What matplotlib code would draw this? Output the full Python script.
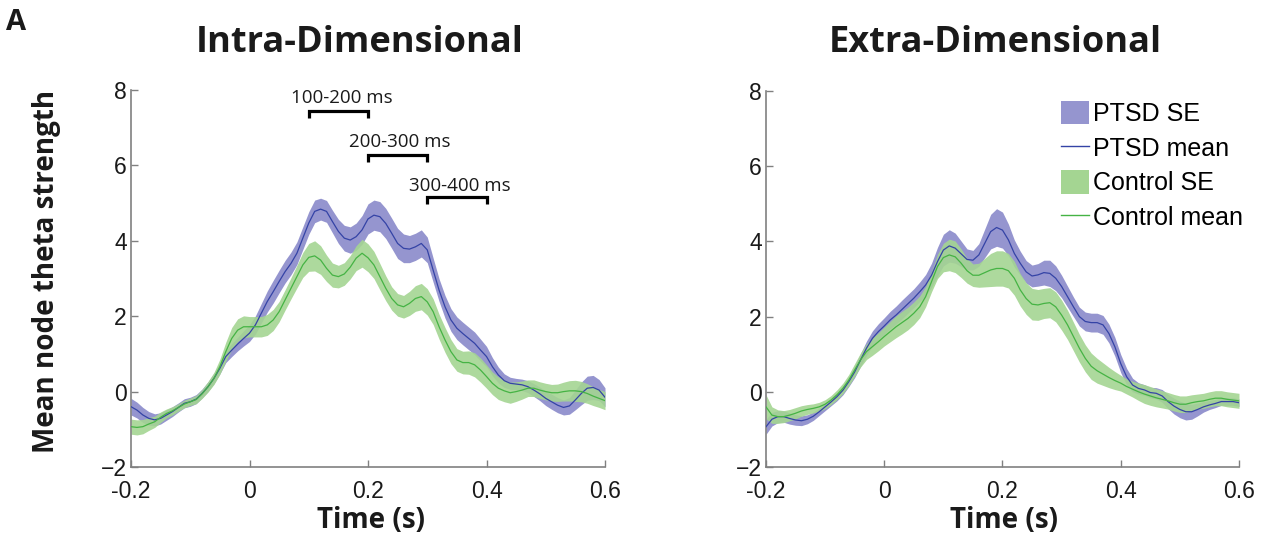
import numpy as np
import matplotlib
matplotlib.use("Agg")
import matplotlib.pyplot as plt
from matplotlib.patches import Patch
from matplotlib.lines import Line2D

# ---------------- data ----------------
time = np.linspace(-0.2, 0.6, 81)

intra_ptsd_mean = [-0.40,-0.49,-0.62,-0.71,-0.75,-0.71,-0.62,-0.53,-0.42,-0.31,
 -0.27,-0.20,-0.05,0.13,0.35,0.62,0.93,1.10,1.26,1.41,
 1.55,1.77,2.08,2.39,2.65,2.92,3.18,3.40,3.67,4.07,
 4.47,4.78,4.84,4.78,4.51,4.25,4.07,4.02,4.11,4.29,
 4.58,4.68,4.64,4.46,4.20,3.93,3.80,3.78,3.84,3.93,
 3.76,3.22,2.69,2.25,1.90,1.68,1.54,1.41,1.28,1.10,
 0.93,0.66,0.44,0.29,0.22,0.20,0.18,0.13,0.04,-0.06,
 -0.18,-0.27,-0.36,-0.42,-0.38,-0.22,-0.05,0.09,0.11,0.04,
 -0.15]
intra_ptsd_se = [0.22,0.21,0.20,0.18,0.16,0.15,0.14,0.13,0.12,0.12,
 0.12,0.12,0.12,0.13,0.14,0.15,0.16,0.17,0.18,0.20,
 0.22,0.24,0.26,0.28,0.30,0.30,0.30,0.30,0.30,0.30,
 0.30,0.30,0.29,0.29,0.30,0.32,0.34,0.35,0.36,0.38,
 0.40,0.40,0.40,0.40,0.40,0.40,0.38,0.36,0.36,0.36,
 0.34,0.32,0.30,0.30,0.30,0.30,0.30,0.30,0.30,0.29,
 0.27,0.24,0.21,0.18,0.16,0.15,0.15,0.16,0.17,0.18,
 0.19,0.20,0.20,0.20,0.22,0.26,0.30,0.32,0.32,0.28,
 0.25]
intra_ctrl_mean = [-0.93,-0.95,-0.93,-0.86,-0.80,-0.68,-0.58,-0.51,-0.42,-0.33,
 -0.27,-0.21,-0.06,0.13,0.35,0.66,1.06,1.41,1.63,1.72,
 1.72,1.72,1.72,1.77,1.90,2.12,2.43,2.74,3.05,3.36,
 3.56,3.60,3.49,3.27,3.09,3.05,3.12,3.30,3.54,3.67,
 3.55,3.36,3.05,2.74,2.47,2.30,2.25,2.34,2.47,2.52,
 2.38,2.12,1.72,1.37,1.06,0.84,0.77,0.77,0.71,0.57,
 0.40,0.22,0.09,0.02,-0.03,0.00,0.04,0.09,0.09,0.04,
 0.00,-0.03,-0.03,0.00,0.02,0.02,0.00,-0.05,-0.12,-0.18,
 -0.24]
intra_ctrl_se = [0.20,0.20,0.19,0.17,0.15,0.14,0.12,0.11,0.10,0.10,
 0.10,0.11,0.12,0.14,0.16,0.20,0.25,0.29,0.30,0.29,
 0.27,0.27,0.27,0.28,0.28,0.27,0.27,0.28,0.30,0.33,
 0.37,0.40,0.38,0.35,0.32,0.30,0.30,0.31,0.33,0.37,
 0.37,0.36,0.35,0.33,0.31,0.30,0.30,0.32,0.34,0.35,
 0.35,0.34,0.33,0.33,0.32,0.30,0.30,0.31,0.32,0.32,
 0.31,0.30,0.30,0.29,0.28,0.26,0.24,0.22,0.22,0.22,
 0.22,0.22,0.23,0.25,0.27,0.28,0.27,0.26,0.25,0.24,
 0.24]

extra_ptsd_mean = [-0.93,-0.73,-0.66,-0.66,-0.71,-0.75,-0.77,-0.73,-0.65,-0.53,
 -0.40,-0.27,-0.13,0.04,0.27,0.53,0.85,1.16,1.42,1.60,
 1.75,1.91,2.04,2.19,2.34,2.49,2.66,2.84,3.10,3.46,
 3.77,3.88,3.82,3.67,3.52,3.50,3.64,3.95,4.26,4.37,
 4.30,4.04,3.68,3.42,3.19,3.08,3.11,3.17,3.15,3.02,
 2.80,2.53,2.26,2.00,1.87,1.84,1.84,1.78,1.55,1.20,
 0.75,0.40,0.18,0.09,0.05,-0.02,-0.04,-0.11,-0.26,-0.38,
 -0.47,-0.53,-0.53,-0.47,-0.40,-0.35,-0.31,-0.26,-0.26,-0.26,
 -0.29]
extra_ptsd_se = [0.20,0.18,0.16,0.15,0.15,0.14,0.13,0.12,0.11,0.10,
 0.10,0.10,0.11,0.12,0.13,0.15,0.17,0.19,0.20,0.21,
 0.22,0.23,0.24,0.25,0.25,0.25,0.26,0.28,0.32,0.38,
 0.42,0.43,0.40,0.34,0.28,0.26,0.30,0.38,0.46,0.50,
 0.48,0.42,0.36,0.32,0.30,0.29,0.30,0.33,0.35,0.33,
 0.30,0.28,0.26,0.25,0.25,0.25,0.25,0.25,0.25,0.25,
 0.24,0.22,0.18,0.15,0.14,0.14,0.15,0.17,0.19,0.21,
 0.22,0.22,0.20,0.17,0.14,0.12,0.11,0.10,0.10,0.10,
 0.10]
extra_ctrl_mean = [-0.40,-0.62,-0.66,-0.66,-0.62,-0.57,-0.51,-0.47,-0.44,-0.40,
 -0.33,-0.22,-0.08,0.09,0.31,0.58,0.85,1.07,1.20,1.33,
 1.47,1.60,1.73,1.84,1.95,2.09,2.26,2.53,2.93,3.33,
 3.57,3.64,3.59,3.42,3.22,3.10,3.10,3.17,3.24,3.28,
 3.28,3.22,3.02,2.71,2.48,2.33,2.31,2.35,2.37,2.26,
 2.04,1.78,1.47,1.16,0.89,0.68,0.56,0.47,0.38,0.30,
 0.23,0.14,0.07,0.00,-0.06,-0.11,-0.16,-0.20,-0.24,-0.29,
 -0.33,-0.33,-0.29,-0.26,-0.24,-0.20,-0.17,-0.17,-0.20,-0.22,
 -0.24]
extra_ctrl_se = [0.32,0.22,0.18,0.16,0.15,0.15,0.14,0.13,0.12,0.12,
 0.12,0.12,0.13,0.14,0.15,0.17,0.19,0.21,0.23,0.24,
 0.25,0.27,0.29,0.30,0.30,0.30,0.29,0.27,0.27,0.32,
 0.38,0.42,0.42,0.38,0.33,0.30,0.32,0.38,0.44,0.47,
 0.47,0.46,0.45,0.43,0.42,0.42,0.41,0.40,0.40,0.40,
 0.40,0.39,0.38,0.37,0.36,0.35,0.33,0.30,0.27,0.24,
 0.21,0.20,0.21,0.23,0.25,0.25,0.24,0.23,0.22,0.22,
 0.22,0.22,0.21,0.20,0.20,0.20,0.20,0.20,0.20,0.20,
 0.20]

xticks = [-0.2, 0, 0.2, 0.4, 0.6]
xtick_labels = ["-0.2", "0", "0.2", "0.4", "0.6"]
yticks = [-2, 0, 2, 4, 6, 8]

window_labels = ["100-200 ms", "200-300 ms", "300-400 ms"]
window_starts = [0.1, 0.2, 0.3]
window_ends = [0.2, 0.3, 0.4]
window_levels = [7.45, 6.28, 5.17]
window_label_x = [0.156, 0.254, 0.355]
window_label_y = [7.79, 6.63, 5.45]

legend_labels = ["PTSD SE", "PTSD mean", "Control SE", "Control mean"]

# ---------------- style ----------------
PTSD_BAND = "#9595CF"
PTSD_LINE = "#3443A6"
CTRL_BAND = "#A4D592"
CTRL_LINE = "#45B344"
SPINE = "#808080"

W, H = 1270, 544
fig = plt.figure(figsize=(W / 100, H / 100), dpi=100)

def px_axes(l, t, r, b):
    return [l / W, 1 - b / H, (r - l) / W, (b - t) / H]

ax1 = fig.add_axes(px_axes(131, 90, 605, 467))
ax2 = fig.add_axes(px_axes(766, 91, 1239, 467))

panels = [
    (ax1, intra_ptsd_mean, intra_ptsd_se, intra_ctrl_mean, intra_ctrl_se),
    (ax2, extra_ptsd_mean, extra_ptsd_se, extra_ctrl_mean, extra_ctrl_se),
]

for ax, pm, pse, cm, cse in panels:
    pm, pse, cm, cse = map(np.asarray, (pm, pse, cm, cse))
    ax.fill_between(time, pm - pse, pm + pse, color=PTSD_BAND, lw=0, zorder=1)
    ax.fill_between(time, cm - cse, cm + cse, color=CTRL_BAND, lw=0, alpha=0.9, zorder=2)
    ax.plot(time, pm, color=PTSD_LINE, lw=0.9, zorder=3)
    ax.plot(time, cm, color=CTRL_LINE, lw=0.9, zorder=3)
    ax.set_xlim(-0.2, 0.6)
    ax.set_ylim(-2, 8)
    ax.set_xticks(xticks)
    ax.set_xticklabels(xtick_labels)
    ax.set_yticks(yticks)
    for s in ("top", "right"):
        ax.spines[s].set_visible(False)
    for s in ("left", "bottom"):
        ax.spines[s].set_color(SPINE)
        ax.spines[s].set_linewidth(1.2)
    ax.tick_params(direction="in", length=5, width=1, color=SPINE,
                   labelsize=16.5, labelcolor="#1a1a1a")
    ax.tick_params(axis="x", pad=9)
    ax.tick_params(axis="y", pad=3)
    for lab in ax.get_xticklabels() + ax.get_yticklabels():
        lab.set_fontfamily("Liberation Sans")

# brackets on the left panel
for lab, x0, x1, yl, tx, ty in zip(window_labels, window_starts, window_ends,
                                   window_levels, window_label_x, window_label_y):
    ax1.plot([x0, x0, x1, x1], [yl - 0.19, yl, yl, yl - 0.19], color="black",
             lw=2.3, solid_joinstyle="miter", solid_capstyle="butt", zorder=5)
    ax1.text(tx, ty, lab, ha="center", va="center", fontsize=13.5,
             family="Open Sans", color="#1a1a1a")

# legend on the right panel
handles = [Patch(facecolor=PTSD_BAND, edgecolor="none"),
           Line2D([], [], color=PTSD_LINE, lw=1),
           Patch(facecolor=CTRL_BAND, edgecolor="none"),
           Line2D([], [], color=CTRL_LINE, lw=1)]
ax2.legend(handles, legend_labels, loc="upper left", bbox_to_anchor=(0.624, 0.974),
           frameon=False, prop={"family": "Liberation Sans", "size": 18},
           handlelength=1.12, handleheight=1.08, handletextpad=0.16,
           labelspacing=0.37, borderpad=0, borderaxespad=0)

# titles and labels
tfont = dict(family="Open Sans", weight="bold", color="#1a1a1a")
fig.text(360 / W, 1 - 43 / H, "Intra-Dimensional", ha="center", va="center", fontsize=26, **tfont)
fig.text(995 / W, 1 - 43 / H, "Extra-Dimensional", ha="center", va="center", fontsize=26, **tfont)
fig.text(371 / W, 1 - 521 / H, "Time (s)", ha="center", va="center", fontsize=20, **tfont)
fig.text(1004 / W, 1 - 521 / H, "Time (s)", ha="center", va="center", fontsize=20, **tfont)
fig.text(47 / W, 1 - 271 / H, "Mean node theta strength", ha="center", va="center",
         rotation=90, fontsize=20, **tfont)
fig.text(16 / W, 1 - 23 / H, "A", ha="center", va="center", fontsize=21, **tfont)

fig.savefig("out.png", dpi=100)
